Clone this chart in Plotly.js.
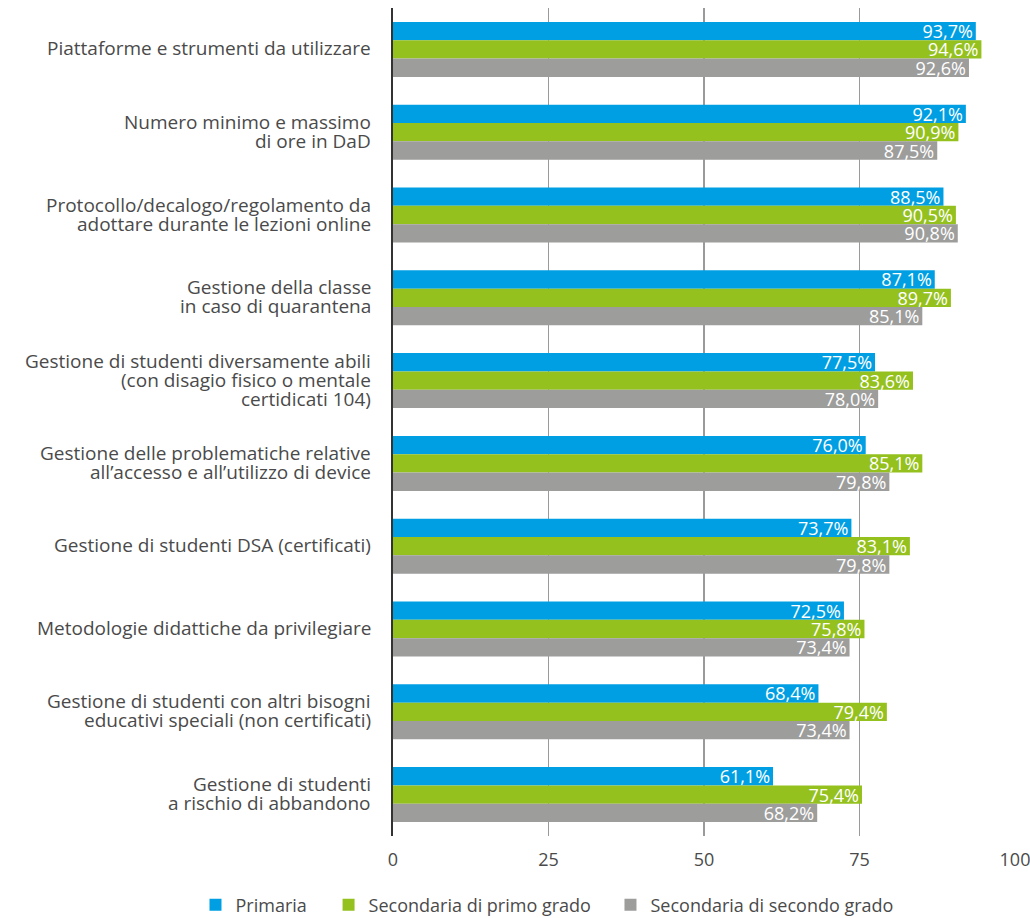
<!DOCTYPE html>
<html><head><meta charset="utf-8">
<script src="https://cdn.plot.ly/plotly-3.0.1.min.js"></script>
<style>html,body{margin:0;padding:0;background:#fff}#chart{width:1030px;height:918px}</style>
</head><body><div id="chart"></div>
<script>
const categories = [
  "Piattaforme e strumenti da utilizzare",
  "Numero minimo e massimo<br>di ore in DaD",
  "Protocollo/decalogo/regolamento da<br>adottare durante le lezioni online",
  "Gestione della classe<br>in caso di quarantena",
  "Gestione di studenti diversamente abili<br>(con disagio fisico o mentale<br>certidicati 104)",
  "Gestione delle problematiche relative<br>all’accesso e all’utilizzo di device",
  "Gestione di studenti DSA (certificati)",
  "Metodologie didattiche da privilegiare",
  "Gestione di studenti con altri bisogni<br>educativi speciali (non certificati)",
  "Gestione di studenti<br>a rischio di abbandono"
];
const primaria = [93.7, 92.1, 88.5, 87.1, 77.5, 76.0, 73.7, 72.5, 68.4, 61.1];
const secondariaPrimo = [94.6, 90.9, 90.5, 89.7, 83.6, 85.1, 83.1, 75.8, 79.4, 75.4];
const secondariaSecondo = [92.6, 87.5, 90.8, 85.1, 78.0, 79.8, 79.8, 73.4, 73.4, 68.2];
const seriesNames = ["Primaria", "Secondaria di primo grado", "Secondaria di secondo grado"];
const colors = ["#009FE3", "#95C11F", "#9D9D9C"];
const xTicks = [0, 25, 50, 75, 100];

const FONT = "Open Sans, sans-serif";
const TXT = "#4a4a4a";
const legendIds = ["legend", "legend2", "legend3"];
const mk = (vals, i) => ({
  type: "bar", orientation: "h", name: seriesNames[i], legend: legendIds[i],
  y: categories, x: vals,
  marker: {color: colors[i]},
  texttemplate: "%{x:.1f}%", textposition: "inside", insidetextanchor: "end",
  textfont: {color: "#ffffff", size: 18, family: FONT},
  constraintext: "none", cliponaxis: false, hoverinfo: "skip"
});
const data = [mk(primaria,0), mk(secondariaPrimo,1), mk(secondariaSecondo,2)];

// category labels drawn line by line for tight line spacing
const LINE = 19;
const annotations = [];
categories.forEach(c => {
  const lines = c.split("<br>");
  const n = lines.length;
  lines.forEach((ln, j) => {
    annotations.push({
      xref: "paper", yref: "y", x: 0, y: c, xanchor: "right", yanchor: "middle",
      xshift: -20, yshift: ((n - 1) / 2 - j) * LINE + 1,
      text: ln, showarrow: false,
      font: {family: FONT, size: 19, color: TXT}
    });
  });
});

const legendBase = {orientation: "h", xref: "container", yref: "container", xanchor: "left",
  y: 0.0142, yanchor: "middle", font: {size: 18, color: TXT}, itemwidth: 30, borderwidth: 0,
  bgcolor: "rgba(0,0,0,0)"};
const legendX = [0.1898, 0.319, 0.5927];

const layout = {
  width: 1030, height: 918,
  margin: {l: 393, r: 15, t: 8, b: 82},
  paper_bgcolor: "#fff", plot_bgcolor: "#fff",
  separators: ",.",
  barmode: "group", bargap: 0.336, bargroupgap: 0,
  font: {family: FONT, size: 16, color: TXT},
  xaxis: {range: [0, 100], tickvals: xTicks, showgrid: true, gridcolor: "#9a9a9a", gridwidth: 1.5,
          zeroline: false, showline: false, ticks: "", ticklabelstandoff: 11,
          ticklabeloverflow: "allow",
          tickfont: {size: 18, color: TXT}, fixedrange: true},
  yaxis: {autorange: "reversed", showline: true, linecolor: "#333", linewidth: 2,
          ticks: "", showticklabels: false, showgrid: false},
  annotations: annotations,
  showlegend: true,
  legend: Object.assign({}, legendBase, {x: legendX[0]}),
  legend2: Object.assign({}, legendBase, {x: legendX[1]}),
  legend3: Object.assign({}, legendBase, {x: legendX[2]})
};
Plotly.newPlot("chart", data, layout, {displayModeBar: false, staticPlot: true});
</script></body></html>
